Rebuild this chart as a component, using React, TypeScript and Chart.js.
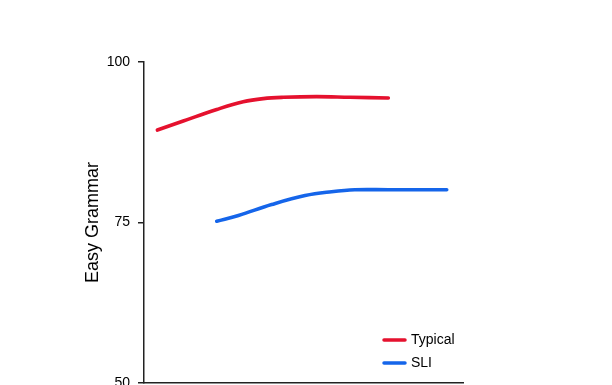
import React, { useEffect, useRef } from "react";
import { Chart, registerables } from "chart.js";

Chart.register(...registerables);

// Data (x in arbitrary units along the hidden x axis)
const typicalX = [4.2, 12.3, 22.8, 31.1, 37.4, 43.7, 54.1, 64.6, 76.6];
const typicalY = [89.4, 90.8, 92.6, 93.8, 94.3, 94.5, 94.6, 94.5, 94.4];
const sliX = [22.8, 29.6, 40.0, 50.5, 58.8, 66.1, 76.6, 87.1, 94.9];
const sliY = [75.2, 76.1, 77.8, 79.2, 79.8, 80.1, 80.1, 80.1, 80.1];
const seriesLabels = ["Typical", "SLI"];
const seriesColors = ["#E5112E", "#1565EA"];
const yTicks = [50, 75, 100];
const yTitle = "Easy Grammar";

const FONT = "'Liberation Sans', Arial, sans-serif";
const W = 612;
const H = 430;

const legendPlugin = {
  id: "customLegend",
  afterDraw(chart: any) {
    const ctx = chart.ctx;
    ctx.save();
    chart.data.datasets.forEach((ds: any, i: number) => {
      const y = 340 + i * 23;
      ctx.strokeStyle = ds.borderColor;
      ctx.lineWidth = 3.5;
      ctx.lineCap = "round";
      ctx.beginPath();
      ctx.moveTo(384, y);
      ctx.lineTo(405, y);
      ctx.stroke();
      ctx.fillStyle = "#000";
      ctx.font = `14px ${FONT}`;
      ctx.textAlign = "left";
      ctx.textBaseline = "middle";
      ctx.fillText(ds.label, 411, y + 0.5);
    });
    ctx.restore();
  },
};

export default function App() {
  const ref = useRef<HTMLCanvasElement | null>(null);

  useEffect(() => {
    if (!ref.current) return;
    const lineStyle = {
      borderWidth: 3.6,
      borderCapStyle: "round",
      borderJoinStyle: "round",
      pointRadius: 0,
      tension: 0.4,
      fill: false,
    };
    const chart = new Chart(ref.current, {
      type: "line",
      data: {
        datasets: [
          {
            label: seriesLabels[0],
            data: typicalX.map((x, i) => ({ x, y: typicalY[i] })),
            borderColor: seriesColors[0],
            backgroundColor: seriesColors[0],
            ...lineStyle,
          },
          {
            label: seriesLabels[1],
            data: sliX.map((x, i) => ({ x, y: sliY[i] })),
            borderColor: seriesColors[1],
            backgroundColor: seriesColors[1],
            ...lineStyle,
          },
        ],
      },
      options: {
        animation: false,
        responsive: false,
        devicePixelRatio: 1,
        layout: { padding: { top: 62, right: 149, left: 0, bottom: 0 } },
        plugins: {
          legend: { display: false },
          tooltip: { enabled: false },
        },
        scales: {
          x: {
            type: "linear",
            min: 0,
            max: 100,
            ticks: { display: false },
            grid: { display: false },
            border: { display: true, color: "#222", width: 1.5 },
            afterFit: (scale: any) => {
              scale.height = H - 383;
            },
          },
          y: {
            type: "linear",
            min: 50,
            max: 100,
            afterBuildTicks: (scale: any) => {
              scale.ticks = yTicks.map((v) => ({ value: v }));
            },
            ticks: {
              color: "#000",
              font: { family: FONT, size: 14 },
              padding: 8,
            },
            grid: {
              display: true,
              drawOnChartArea: false,
              drawTicks: true,
              tickLength: 6,
              color: "#222",
              lineWidth: 1.5,
            },
            border: { display: true, color: "#222", width: 1.5 },
            title: {
              display: true,
              text: yTitle,
              color: "#000",
              font: { family: FONT, size: 18 },
              padding: { top: 82, bottom: 0 },
            },
            afterFit: (scale: any) => {
              scale.width = 144;
            },
          },
        },
      },
      plugins: [legendPlugin],
    } as any);
    return () => chart.destroy();
  }, []);

  return (
    <div style={{ position: "absolute", left: 0, top: 0, width: W, height: H, background: "#fff" }}>
      <canvas ref={ref} width={W} height={H} style={{ display: "block", width: W, height: H }} />
    </div>
  );
}
